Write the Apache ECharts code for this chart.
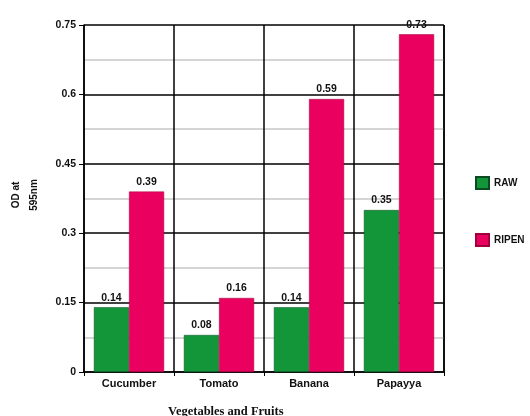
<!DOCTYPE html>
<html lang="en">
<head>
    <meta charset="UTF-8">
    <title>OD at 595nm</title>
    <script src="https://cdn.jsdelivr.net/npm/echarts/dist/echarts.min.js"></script>
</head>
<body style="margin: 0">
    <div id="chart" style="width: 530px; height: 416px;"></div>
    <script>
        const categories = ['Cucumber', 'Tomato', 'Banana', 'Papayya'];
        const rawValues = [0.14, 0.08, 0.14, 0.35];
        const ripenValues = [0.39, 0.16, 0.59, 0.73];
        const yTicks = [0, 0.15, 0.3, 0.45, 0.6, 0.75];

        const chart = echarts.init(document.getElementById('chart'));

        const labelStyle = {
            show: true,
            position: 'top',
            distance: 4,
            fontFamily: 'Arial, sans-serif',
            fontWeight: 'bold',
            fontSize: 10.5,
            color: '#111',
            formatter: p => p.value.toFixed(2)
        };

        chart.setOption({
            animation: false,
            title: {
                text: 'Vegetables and Fruits',
                left: 163,
                top: 400,
                textStyle: {
                    fontFamily: '"Liberation Serif", serif',
                    fontWeight: 'bold',
                    fontSize: 12.5,
                    color: '#111'
                }
            },
            legend: {
                orient: 'vertical',
                left: 470,
                top: 171,
                itemWidth: 13,
                itemHeight: 12,
                itemGap: 43,
                icon: 'rect',
                textStyle: {
                    fontFamily: 'Arial, sans-serif',
                    fontWeight: 'bold',
                    fontSize: 10,
                    color: '#111'
                },
                data: ['RAW', 'RIPEN']
            },
            grid: { left: 84, right: 86, top: 25, bottom: 44, containLabel: false, outerBoundsMode: 'none' },
            xAxis: {
                type: 'category',
                data: categories,
                axisLine: { lineStyle: { color: '#000', width: 1.5 } },
                axisTick: { show: true, length: 4, lineStyle: { color: '#000' } },
                axisLabel: {
                    fontFamily: 'Arial, sans-serif',
                    fontWeight: 'bold',
                    fontSize: 11,
                    color: '#111',
                    margin: 6
                },
                splitLine: { show: true, lineStyle: { color: '#000', width: 1.5 } }
            },
            yAxis: {
                type: 'value',
                min: 0,
                max: 0.75,
                interval: 0.15,
                axisLine: { show: true, lineStyle: { color: '#000', width: 1.5 } },
                axisTick: { show: true, length: 5, lineStyle: { color: '#000' } },
                axisLabel: {
                    fontFamily: 'Arial, sans-serif',
                    fontWeight: 'bold',
                    fontSize: 10.5,
                    color: '#111',
                    margin: 8,
                    formatter: v => yTicks.includes(+v.toFixed(2)) ? String(+v.toFixed(2)) : ''
                },
                splitLine: { lineStyle: { color: '#000', width: 1.5 } },
                minorTick: { show: false, splitNumber: 2 },
                minorSplitLine: { show: true, lineStyle: { color: '#c8c8c8', width: 1.5 } }
            },
            graphic: [
                {
                    type: 'line',
                    shape: { x1: 444, y1: 25, x2: 444, y2: 372 },
                    style: { stroke: '#000', lineWidth: 1.5 }
                },
                {
                    type: 'text',
                    x: 25,
                    y: 195,
                    rotation: Math.PI / 2,
                    style: {
                        text: 'OD at\n595nm',
                        align: 'center',
                        verticalAlign: 'middle',
                        lineHeight: 18,
                        fontFamily: 'Arial, sans-serif',
                        fontWeight: 'bold',
                        fontSize: 10,
                        fill: '#111'
                    }
                }
            ],
            series: [
                {
                    name: 'RAW',
                    type: 'bar',
                    data: rawValues,
                    barGap: '0%',
                    barCategoryGap: '22%',
                    itemStyle: { color: '#13963a', borderColor: '#0b4a22', borderWidth: 0.5 },
                    label: labelStyle
                },
                {
                    name: 'RIPEN',
                    type: 'bar',
                    data: ripenValues,
                    itemStyle: { color: '#ea005e', borderColor: '#a0003c', borderWidth: 0.5 },
                    label: labelStyle
                }
            ]
        });
    </script>
</body>
</html>
